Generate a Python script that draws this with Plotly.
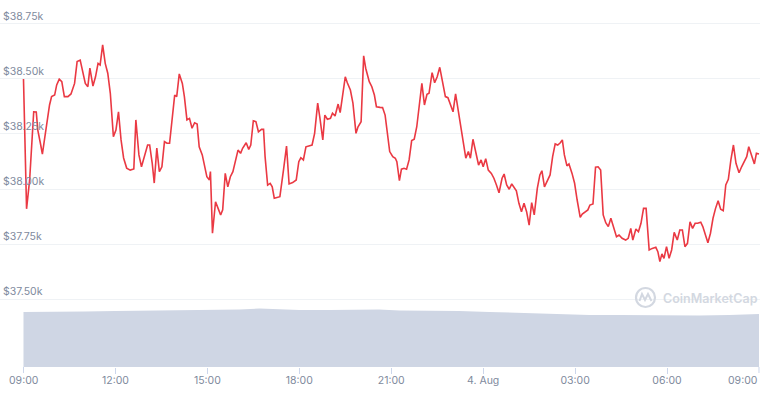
import plotly.graph_objects as go
import pandas as pd

start = pd.Timestamp("2021-08-03 09:00")

# Price (USD), minutes after 03 Aug 09:00
price_minutes = [
    0, 6, 12, 17, 20, 25, 28, 33, 37, 41,
    46, 51, 55, 61, 65, 70, 75, 80, 87, 93,
    100, 105, 111, 116, 121, 126, 130, 136, 141, 146,
    150, 155, 160, 165, 170, 176, 181, 186, 191, 196,
    202, 209, 216, 220, 226, 231, 239, 243, 247, 252,
    256, 261, 266, 271, 276, 281, 286, 291, 296, 300,
    305, 311, 315, 320, 325, 330, 335, 340, 344, 350,
    354, 359, 364, 366, 370, 376, 381, 386, 390, 395,
    400, 405, 410, 415, 420, 425, 429, 436, 441, 445,
    450, 455, 460, 466, 470, 473, 478, 483, 487, 491,
    498, 502, 509, 515, 520, 527, 534, 539, 543, 548,
    553, 560, 565, 570, 576, 580, 586, 590, 595, 601,
    605, 610, 616, 620, 625, 630, 634, 640, 645, 651,
    655, 661, 666, 670, 677, 682, 687, 691, 698, 703,
    708, 713, 717, 723, 728, 731, 736, 740, 745, 750,
    755, 760, 765, 770, 775, 780, 785, 790, 794, 800,
    805, 810, 815, 820, 826, 831, 836, 841, 846, 851,
    857, 861, 866, 871, 875, 880, 886, 891, 896, 900,
    905, 910, 916, 921, 926, 931, 937, 941, 946, 951,
    956, 961, 965, 970, 975, 980, 985, 990, 995, 1000,
    1006, 1011, 1015, 1020, 1025, 1031, 1036, 1041, 1046, 1051,
    1055, 1059, 1064, 1068, 1074, 1079, 1084, 1090, 1094, 1100,
    1105, 1109, 1115, 1120, 1125, 1130, 1135, 1140, 1145, 1150,
    1156, 1161, 1166, 1172, 1179, 1184, 1189, 1193, 1199, 1204,
    1209, 1214, 1219, 1225, 1231, 1238, 1242, 1246, 1250, 1254,
    1259, 1264, 1269, 1274, 1280, 1285, 1290, 1295, 1300, 1305,
    1310, 1315, 1320, 1326, 1330, 1336, 1340, 1345, 1350, 1355,
    1360, 1365, 1370, 1375, 1380, 1385, 1390, 1395, 1401, 1406,
    1411, 1416, 1420, 1426, 1431, 1435, 1440,
]
price_values = [
    38500, 37910, 38040, 38238, 38351, 38350, 38268, 38209, 38159, 38223,
    38314, 38382, 38420, 38427, 38473, 38499, 38488, 38420, 38420, 38432,
    38480, 38579, 38586, 38526, 38480, 38465, 38549, 38468, 38510, 38571,
    38564, 38655, 38571, 38526, 38435, 38238, 38268, 38351, 38223, 38141,
    38095, 38086, 38091, 38314, 38155, 38101, 38164, 38200, 38200, 38118,
    38027, 38186, 38079, 38101, 38215, 38208, 38208, 38314, 38427, 38420,
    38523, 38480, 38420, 38314, 38321, 38276, 38301, 38295, 38192, 38155,
    38117, 38056, 38041, 38079, 37799, 37942, 37912, 37882, 37905, 38071,
    38010, 38056, 38079, 38132, 38177, 38162, 38185, 38210, 38180, 38200,
    38310, 38306, 38260, 38271, 38271, 38147, 38018, 38026, 38010, 37958,
    37962, 37965, 38086, 38195, 38023, 38029, 38041, 38124, 38142, 38132,
    38192, 38195, 38200, 38253, 38390, 38329, 38223, 38336, 38317, 38321,
    38344, 38332, 38386, 38347, 38427, 38510, 38483, 38450, 38390, 38253,
    38283, 38306, 38605, 38549, 38488, 38465, 38427, 38374, 38371, 38370,
    38336, 38253, 38170, 38147, 38140, 38124, 38038, 38090, 38094, 38090,
    38132, 38220, 38226, 38283, 38397, 38480, 38382, 38430, 38435, 38529,
    38483, 38510, 38553, 38488, 38420, 38415, 38382, 38351, 38432, 38359,
    38268, 38200, 38140, 38170, 38140, 38226, 38162, 38109, 38132, 38101,
    38138, 38086, 38071, 38049, 38018, 37983, 38049, 38068, 38018, 37999,
    38023, 38003, 37992, 37935, 37897, 37935, 37897, 37836, 37938, 37882,
    38003, 38064, 38083, 38010, 38033, 38064, 38147, 38205, 38200, 38210,
    38223, 38155, 38105, 38114, 38071, 38026, 37950, 37871, 37886, 37897,
    37905, 37927, 37932, 38099, 38101, 38086, 37882, 37847, 37829, 37867,
    37826, 37783, 37791, 37776, 37768, 37776, 37821, 37768, 37818, 37806,
    37844, 37912, 37912, 37723, 37730, 37735, 37715, 37670, 37705, 37685,
    37738, 37685, 37723, 37803, 37768, 37814, 37814, 37738, 37753, 37851,
    37821, 37844, 37844, 37849, 37829, 37791, 37756, 37799, 37867, 37912,
    37947, 37908, 37901, 38018, 38044, 38132, 38200, 38117, 38074, 38101,
    38124, 38147, 38192, 38144, 38114, 38162, 38159,
]

# Volume (billions USD), minutes after 03 Aug 09:00
volume_minutes = [0, 61, 120, 180, 246, 305, 364, 423, 462, 501, 540, 599, 657, 696,
                  736, 794, 853, 912, 951, 1010, 1049, 1108, 1166, 1225, 1323, 1382, 1440]
volume_values = [27.0, 27.0, 27.2, 27.5, 27.7, 27.9, 27.9, 28.2, 28.7, 28.2, 27.9, 27.9, 28.2, 28.2,
                 27.7, 27.7, 27.5, 27.0, 26.7, 26.5, 26.0, 25.5, 25.5, 25.3, 25.3, 25.5, 26.0]

y_tick_values = [37500, 37750, 38000, 38250, 38500, 38750]
y_tick_labels = ["$37.50k", "$37.75k", "$38.00k", "$38.25k", "$38.50k", "$38.75k"]
x_tick_hours = [0, 3, 6, 9, 12, 15, 18, 21, 24]
x_tick_labels = ["09:00", "12:00", "15:00", "18:00", "21:00", "4. Aug", "03:00", "06:00", "09:00"]

price_x = [start + pd.Timedelta(minutes=m) for m in price_minutes]
volume_x = [start + pd.Timedelta(minutes=m) for m in volume_minutes]
tick_x = [start + pd.Timedelta(hours=h) for h in x_tick_hours]

LABEL_COLOR = "#808a9d"
TICK_COLOR = "#ccd6eb"
FONT = "Inter, Roboto, Arial, sans-serif"
FS = 10.5

fig = go.Figure()
fig.add_trace(go.Scatter(
    x=volume_x, y=volume_values, yaxis="y2", mode="lines",
    line=dict(width=0, color="#cfd6e4"), fill="tozeroy", fillcolor="#cfd6e4",
    hoverinfo="skip", showlegend=False,
))
fig.add_trace(go.Scatter(
    x=price_x, y=price_values, mode="lines",
    line=dict(color="#ea3943", width=1.6), showlegend=False,
))

fig.update_layout(
    width=768, height=398,
    margin=dict(l=0, r=8, t=0, b=31),
    paper_bgcolor="white", plot_bgcolor="white",
    font=dict(family=FONT, size=FS, color=LABEL_COLOR),
    xaxis=dict(
        range=[start - pd.Timedelta(minutes=46), start + pd.Timedelta(hours=24, minutes=2)],
        tickvals=tick_x[1:-1], ticktext=x_tick_labels[1:-1],
        showgrid=False, zeroline=False, showline=False,
        ticks="outside", ticklen=6, tickcolor=TICK_COLOR, tickwidth=1,
        ticklabelstandoff=-3,
        tickfont=dict(family=FONT, size=FS, color=LABEL_COLOR),
    ),
    yaxis=dict(
        range=[37191, 38859],
        tickvals=y_tick_values, ticktext=y_tick_labels,
        ticklabelposition="inside top", ticklabelstandoff=0, ticklabelshift=0,
        showgrid=True, gridcolor="#eff2f5", gridwidth=1,
        zeroline=False, showline=False, ticks="",
        tickfont=dict(family=FONT, size=FS, color=LABEL_COLOR),
    ),
    yaxis2=dict(
        overlaying="y", range=[0, 180], showgrid=False, zeroline=False,
        showticklabels=False, showline=False,
    ),
)

# First x label (and its tick), which plotly hides next to the inside y labels
for t in (tick_x[0], tick_x[-1]):
    fig.add_shape(type="line", xref="x", yref="paper", x0=t, x1=t, y0=0,
                  y1=-6 / 367, line=dict(color=TICK_COLOR, width=1))
fig.add_annotation(
    x=tick_x[0], xref="x", xanchor="center",
    y=0, yref="paper", yanchor="top", yshift=-5,
    text=x_tick_labels[0], showarrow=False,
    font=dict(family=FONT, size=FS, color=LABEL_COLOR),
)
# Last x label aligned to the right edge (as in the reference)
fig.add_annotation(
    x=tick_x[-1], xref="x", xanchor="right",
    y=0, yref="paper", yanchor="top", yshift=-5,
    text=x_tick_labels[-1], showarrow=False,
    font=dict(family=FONT, size=FS, color=LABEL_COLOR),
)

# Watermark
WM = "#d3d8e1"
cx, cy, r = 645.5, 297.5, 9.5
def px(x):
    return x / 760
def py(y):
    return (367 - y) / 367
fig.add_shape(type="circle", xref="paper", yref="paper",
              x0=px(cx - r), x1=px(cx + r), y0=py(cy + r), y1=py(cy - r),
              line=dict(color=WM, width=2.2), fillcolor="rgba(0,0,0,0)")
zig = [(639.5, 301), (642, 294), (645, 300), (648, 294), (651.5, 301)]
path = "M " + " L ".join(f"{px(a):.5f},{py(b):.5f}" for a, b in zig)
fig.add_shape(type="path", xref="paper", yref="paper", path=path,
              line=dict(color=WM, width=2))
fig.add_annotation(
    x=px(661), xref="paper", xanchor="left",
    y=py(298), yref="paper", yanchor="middle",
    text="CoinMarketCap", showarrow=False,
    font=dict(family=FONT, size=12.5, color=WM, weight=600),
)

fig.write_html("out.html")
